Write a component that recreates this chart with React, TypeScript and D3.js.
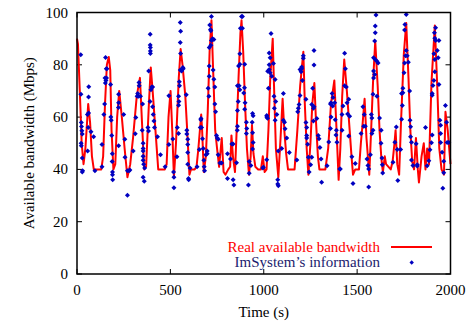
import * as d3 from 'd3';

// real available bandwidth: [time (s), Mbps]
const realBandwidth: [number, number][] = [
  [0, 90], [5, 88], [15, 70], [25, 50], [35, 42], [45, 48], [60, 65], [70, 58], [80, 45], [90, 40],
  [100, 40], [130, 40], [140, 45], [150, 65], [160, 80], [170, 83], [178, 78], [185, 55], [195, 40], [205, 42],
  [215, 60], [226, 70], [240, 60], [255, 48], [270, 37], [285, 42], [300, 52], [320, 68], [337, 75], [350, 55],
  [360, 40], [370, 41], [385, 65], [395, 79], [405, 70], [420, 55], [435, 40], [445, 40], [470, 40], [480, 42],
  [490, 60], [501, 70], [510, 55], [519, 37], [530, 50], [545, 75], [555, 86], [565, 80], [580, 68], [590, 55],
  [602, 38], [610, 40], [630, 40], [640, 41], [650, 48], [665, 61], [670, 55], [679, 39], [690, 45], [700, 62],
  [710, 85], [720, 97], [728, 80], [740, 55], [750, 48], [761, 41], [775, 52], [785, 39], [795, 38], [810, 40],
  [820, 41], [827, 53], [835, 45], [846, 39], [855, 55], [865, 75], [875, 92], [881, 97], [890, 85], [900, 65],
  [910, 48], [921, 38], [930, 45], [937, 57], [945, 46], [955, 41], [970, 40], [985, 40], [995, 45], [1005, 39],
  [1015, 40], [1025, 55], [1035, 75], [1048, 90], [1055, 72], [1065, 48], [1078, 37], [1090, 52], [1101, 67], [1110, 55],
  [1120, 46], [1130, 40], [1165, 40], [1180, 55], [1195, 72], [1212, 85], [1220, 65], [1230, 48], [1239, 38], [1250, 50],
  [1260, 65], [1271, 73], [1280, 58], [1290, 45], [1298, 40], [1330, 40], [1345, 48], [1360, 65], [1378, 74], [1388, 58],
  [1401, 36], [1410, 48], [1420, 68], [1431, 82], [1445, 70], [1460, 55], [1470, 45], [1478, 38], [1490, 40], [1510, 40],
  [1520, 50], [1530, 58], [1540, 67], [1550, 52], [1565, 38], [1575, 55], [1585, 73], [1597, 89], [1610, 72], [1620, 55],
  [1630, 44], [1638, 39], [1648, 45], [1655, 42], [1680, 40], [1690, 43], [1700, 50], [1706, 55], [1715, 42], [1725, 38],
  [1735, 58], [1750, 84], [1763, 96], [1775, 75], [1785, 55], [1795, 43], [1805, 40], [1815, 52], [1825, 40], [1831, 35],
  [1845, 45], [1857, 50], [1866, 40], [1875, 48], [1885, 42], [1898, 73], [1916, 95], [1930, 70], [1940, 48], [1952, 40],
  [1965, 38], [1973, 62], [1985, 55], [2000, 42],
];

// ImSystem's information: [time (s), Mbps]
const imsystemInfo: [number, number][] = [
  [20, 83.8], [21, 68.7], [23, 57.9], [24, 56.4], [26, 54.8], [28, 53.5], [22, 50], [23, 49], [28, 44.4], [30, 39.5],
  [28, 39], [57, 47], [56, 61], [62, 61.6], [62, 67.7], [63, 71.6], [60, 56], [75, 54.4], [89, 52.5], [96, 39.5],
  [134, 49.5], [134, 41], [144, 61], [148, 65], [150, 75], [155, 74], [152, 73], [158, 75], [153, 82.8], [157, 78.5],
  [160, 78.5], [180, 72.5], [181, 60], [183, 58.8], [186, 53], [189, 46], [188, 43], [190, 39], [190, 38], [191, 36],
  [223, 68.7], [223, 65.5], [222, 63.7], [223, 49], [250, 61], [256, 51.5], [257, 44.6], [270, 39.5], [279, 39.5], [283, 39.8],
  [270, 30.1], [301, 47], [312, 53.6], [315, 59.8], [322, 68], [325, 69], [332, 73.2],
  [333, 72], [330, 68], [340, 68], [351, 65], [349, 55], [354, 50], [354, 48], [354, 47], [354, 45], [354, 43.5],
  [357, 42], [362, 40.5], [354, 37], [360, 35.5], [380, 56], [383, 54.7], [384, 77.6], [392, 91.7], [392, 87.6], [393, 86.6],
  [393, 85.3], [393, 84.3], [391, 66], [396, 70.5], [400, 71.5], [405, 71.5], [405, 64], [408, 61], [412, 58.5], [415, 56],
  [431, 52.5], [447, 45.6], [472, 41], [492, 68.2], [492, 49.5], [513, 51.6], [517, 39], [519, 37], [519, 33], [535, 44.8],
  [537, 56], [544, 53.7], [544, 68], [546, 66], [544, 64.5], [549, 72], [548, 73.5], [553, 78], [560, 77.6], [569, 78.5],
  [555, 84.3], [553, 88.5], [555, 92.8], [553, 96.2], [567, 79], [585, 68.5], [588, 55], [588, 53.5], [593, 51.5], [593, 49.5],
  [593, 46.5], [593, 42], [598, 36], [597, 36.5], [605, 40.5], [643, 41], [655, 47.6], [660, 56], [664, 59.5],
  [663, 59], [667, 56], [672, 51.7], [676, 48], [679, 43.5], [681, 41], [683, 39.5], [690, 45.6], [697, 47], [697, 46],
  [706, 68], [702, 71], [708, 75.6], [708, 79.5], [708, 86.6], [717, 87.5], [720, 89.3], [726, 90], [733, 89.7], [711, 95.2],
  [720, 98.5], [717, 93], [715, 93.5], [729, 78], [733, 74.5], [738, 71.5], [738, 65], [742, 62], [747, 53], [751, 52],
  [756, 51.5], [756, 45.6], [765, 42.4], [774, 42.4], [806, 46], [806, 36.5], [836, 36], [840, 34], [822, 44], [829, 49.7],
  [836, 49.7], [854, 42.5], [858, 55], [859, 56.5], [859, 62.5], [863, 66], [872, 70.5], [859, 72], [868, 72], [865, 79.5],
  [872, 80.2], [872, 84.2], [875, 94], [886, 94], [881, 98.5], [886, 98.5], [898, 80.2], [897, 71.2], [893, 69.2], [900, 65.5],
  [898, 63], [907, 58], [909, 55.6], [907, 53.7], [922, 43], [931, 41.5], [922, 38.5], [918, 34], [940, 61.4], [943, 60.5],
  [938, 58], [940, 54], [943, 50.3], [940, 47.8], [995, 40.5],
  [998, 40.8], [1016, 43.7], [1025, 71], [1021, 77.5], [1029, 78.2], [1034, 77], [1029, 80], [1034, 82.7], [1029, 84.5], [1039, 92],
  [1043, 75.6], [1052, 80.5], [1061, 74.4], [1055, 68], [1057, 63.4], [1064, 66], [1070, 61], [1061, 58.8], [1016, 60.6], [1020, 59.6],
  [1016, 60], [1078, 47], [1075, 36], [1075, 34.4], [1078, 33.7], [1096, 48], [1105, 69], [1105, 58.8], [1111, 58], [1114, 55.5],
  [1123, 52], [1137, 46.5], [1177, 43.6], [1182, 62], [1185, 63.4], [1189, 64.8], [1194, 68.3], [1203, 78.5], [1200, 77.3], [1194, 78.2],
  [1203, 79.2], [1212, 82.5], [1212, 83.5], [1207, 74], [1226, 66.8], [1226, 57.9], [1230, 56], [1230, 53], [1230, 52], [1235, 49.6],
  [1239, 44.6], [1243, 39], [1257, 44.6], [1251, 41.8], [1257, 64.8], [1266, 63.4], [1269, 64], [1266, 58.5], [1262, 71], [1269, 85.5],
  [1269, 79.9], [1284, 59.5], [1292, 53], [1296, 51.7], [1301, 48.4], [1307, 44], [1310, 35.1],
  [1339, 41.4], [1348, 50.5], [1357, 55.6], [1360, 60], [1357, 65], [1360, 65.5], [1369, 64.2], [1366, 69], [1371, 67.5], [1380, 65.5],
  [1383, 59], [1389, 55], [1387, 53.2], [1392, 50.4], [1407, 40.2], [1410, 40.2], [1419, 55], [1424, 64.2], [1419, 61], [1433, 84.4],
  [1437, 78.5], [1433, 72], [1442, 71.5], [1446, 65.5], [1455, 66.8], [1449, 61.2], [1460, 60.3], [1455, 52.8], [1472, 44.8], [1478, 34.6],
  [1490, 42.3], [1521, 53.7], [1531, 64], [1538, 61], [1535, 56.5], [1544, 56.5], [1553, 44], [1558, 41.5], [1562, 40.2], [1562, 33.3],
  [1571, 45.6], [1576, 61], [1579, 59.7], [1579, 53.7], [1585, 55], [1585, 68.7], [1588, 77.6], [1594, 76.3], [1588, 75], [1588, 82.7],
  [1597, 82], [1606, 81.4], [1612, 80.7], [1594, 89.1], [1597, 92.3], [1597, 94.8], [1601, 99], [1606, 68], [1620, 59.7], [1629, 55],
  [1628, 50], [1633, 44.4], [1635, 41.8], [1637, 38.6],
  [1692, 42.7], [1702, 50.4], [1710, 56.2], [1715, 47.6], [1718, 35.8], [1733, 47.6], [1738, 59.2], [1742, 64.4], [1745, 69.3], [1738, 69],
  [1745, 71], [1751, 77], [1754, 80.7], [1759, 83.5], [1763, 85.5], [1754, 93.3], [1756, 95.4], [1763, 99.2], [1768, 83.5], [1774, 81],
  [1781, 70], [1783, 58.8], [1786, 56.3], [1786, 52.5], [1791, 50.4], [1791, 43.6], [1799, 41.5], [1816, 49.8], [1822, 41.8], [1822, 41.3],
  [1866, 56], [1875, 41.4], [1884, 43.3], [1890, 47.5], [1898, 50.2], [1902, 53.2], [1902, 68.4], [1906, 72.1], [1911, 74], [1902, 69],
  [1916, 77.3], [1916, 82], [1911, 84.2], [1929, 85.5], [1920, 89.3], [1914, 92.3], [1920, 94.2], [1916, 90.2], [1938, 89.3], [1934, 82.7],
  [1938, 72.5], [1943, 58.8], [1947, 56.9], [1947, 53.7], [1947, 50.3], [1955, 46.6], [1964, 43.1], [1964, 38.7], [1959, 32.8], [1973, 64.4],
  [1979, 58], [1991, 50.3], [1982, 50.3],
];

const xTicks = [0, 500, 1000, 1500, 2000];
const yTicks = [0, 20, 40, 60, 80, 100];

const RED = '#ff0000';
const BLUE = '#0000c0';
const FONT = "'Liberation Serif', 'Times New Roman', Times, 'DejaVu Serif', serif";

const diamond = (cx: number, cy: number, r: number) =>
  `M${cx},${cy - r}L${cx + r},${cy}L${cx},${cy + r}L${cx - r},${cy}Z`;

export default function App() {
  const width = 469;
  const height = 327;
  const left = 77, right = 450.5, top = 12.5, bottom = 274;
  const tick = 5;

  const x = d3.scaleLinear().domain([0, 2000]).range([left, right]);
  const y = d3.scaleLinear().domain([0, 100]).range([bottom, top]);

  const line = d3.line<[number, number]>()
    .x(d => x(d[0]))
    .y(d => y(d[1]));

  const txt = { fontFamily: FONT, fontSize: '15px' };

  return (
    <svg
      width={width}
      height={height}
      style={{ position: 'absolute', left: 0, top: 0, background: '#fff', fontFamily: FONT }}
    >
      {/* ticks, mirrored on all sides */}
      {xTicks.map(t => (
        <g key={'x' + t}>
          <line x1={x(t)} x2={x(t)} y1={bottom} y2={bottom - tick} stroke="#000" />
          <line x1={x(t)} x2={x(t)} y1={top} y2={top + tick} stroke="#000" />
          <text x={x(t)} y={295} textAnchor="middle" style={txt}>{t}</text>
        </g>
      ))}
      {yTicks.map(t => (
        <g key={'y' + t}>
          <line x1={left} x2={left + tick} y1={y(t)} y2={y(t)} stroke="#000" />
          <line x1={right} x2={right - tick} y1={y(t)} y2={y(t)} stroke="#000" />
          <text x={68} y={y(t) + 5} textAnchor="end" style={txt}>{t}</text>
        </g>
      ))}

      {/* series */}
      <path d={line(realBandwidth) ?? ''} fill="none" stroke={RED} strokeWidth={2} strokeLinejoin="round" />
      {imsystemInfo.map((d, i) => (
        <path key={i} d={diamond(x(d[0]), y(d[1]), 2.5)} fill={BLUE} />
      ))}

      {/* frame */}
      <rect x={left} y={top} width={right - left} height={bottom - top} fill="none" stroke="#000" strokeWidth={1.5} />

      {/* axis labels */}
      <text x={(left + right) / 2} y={317} textAnchor="middle" style={txt}>Time (s)</text>
      <text
        transform={`translate(34,${(top + bottom) / 2}) rotate(-90)`}
        textAnchor="middle"
        style={txt}
      >
        Available bandwidth (Mbps)
      </text>

      {/* legend */}
      <text x={380} y={252} textAnchor="end" style={txt} fill={RED}>Real available bandwidth</text>
      <line x1={391} x2={432} y1={247} y2={247} stroke={RED} strokeWidth={2} />
      <text x={380} y={267} textAnchor="end" style={txt} fill="#1c1c6e">ImSystem’s information</text>
      <path d={diamond(411.7, 262.5, 2.2)} fill={BLUE} />
    </svg>
  );
}
